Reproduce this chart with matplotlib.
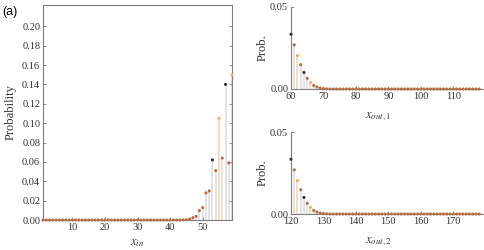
import numpy as np
import matplotlib
matplotlib.use('Agg')
import matplotlib.pyplot as plt

plt.rcParams['font.family'] = ['Liberation Serif', 'DejaVu Serif']
plt.rcParams['mathtext.fontset'] = 'stix'

# datos del panel izquierdo (x_in)
x_in = np.arange(1, 60)
p_in = [0.0] * 43 + [0.0001, 0.0003, 0.001, 0.0024, 0.0038, 0.0097, 0.0128,
                     0.028, 0.030, 0.062, 0.051, 0.105, 0.064, 0.140, 0.059, 0.150]
dark_in = [53, 57]
orange_in = [55, 59]

# datos de los paneles derechos (x_out,1 y x_out,2)
x_out1 = np.arange(60, 119)
x_out2 = np.arange(120, 179)
p_out = [0.0334, 0.0269, 0.0204, 0.0148, 0.0101, 0.0065, 0.0040, 0.0022,
         0.0012, 0.0006, 0.0002, 0.0001] + [0.0] * 47
dark_out = [0, 4]
orange_out = [2, 6]

c_dark = '#3b3030'
c_orange = '#f3ab63'
c_brown = '#b46c45'
c_stem = '#e0e0e0'
c_stem_or = '#f9d8b6'
c_axis = '#7f7f7f'


def colores(idx, dark, orange):
    dots, stems = [], []
    for i in idx:
        if i in dark:
            dots.append(c_dark); stems.append(c_stem)
        elif i in orange:
            dots.append(c_orange); stems.append(c_stem_or)
        else:
            dots.append(c_brown); stems.append(c_stem)
    return dots, stems


fig = plt.figure(figsize=(4.85, 2.5), dpi=100)

# panel izquierdo
ax = fig.add_axes([0.0887, 0.12, 0.3897, 0.86])
dots, stems = colores(list(x_in), dark_in, orange_in)
ax.vlines(x_in, 0, p_in, colors=stems, lw=1.3, zorder=1)
ax.scatter(x_in, p_in, s=5, c=dots, linewidths=0, zorder=3, clip_on=False)
ax.set_xlim(1, 59)
ax.set_ylim(0, 0.222)
ax.set_xticks([10, 20, 30, 40, 50])
ax.set_yticks(np.arange(0, 0.201, 0.02))
ax.set_yticklabels(['%.2f' % v for v in np.arange(0, 0.201, 0.02)])
ax.tick_params(direction='in', length=2.5, width=0.6, color=c_axis,
               labelsize=7.5, labelcolor='#333333', right=True, pad=2)
for s in ax.spines.values():
    s.set_color(c_axis)
    s.set_linewidth(0.8)
ax.set_ylabel('Probability', fontsize=9, labelpad=4, color='#333333')
ax.set_xlabel(r'$x_{in}$', fontsize=9, labelpad=4, color='#333333')

# paneles derechos
for k, (xs, lab, bot) in enumerate([(x_out1, r'$x_{out,1}$', 0.644),
                                     (x_out2, r'$x_{out,2}$', 0.144)]):
    ax2 = fig.add_axes([0.6, bot, 0.4, 0.328])
    dots, stems = colores(range(len(xs)), dark_out, orange_out)
    ax2.vlines(xs, 0, p_out, colors=stems, lw=1.3, zorder=1)
    ax2.scatter(xs, p_out, s=5, c=dots, linewidths=0, zorder=3, clip_on=False)
    ax2.set_xlim(xs[0], xs[0] + 59.8)
    ax2.set_ylim(0, 0.05)
    ax2.set_yticks([0, 0.05])
    ax2.set_yticklabels(['0.00', '0.05'])
    ax2.set_xticks(np.arange(xs[0], xs[0] + 51, 10))
    ax2.spines['top'].set_visible(False)
    ax2.spines['right'].set_visible(False)
    for s in ['left', 'bottom']:
        ax2.spines[s].set_color(c_axis)
        ax2.spines[s].set_linewidth(0.8)
    ax2.tick_params(direction='in', length=2.5, width=0.6, color=c_axis,
                    labelsize=7.5, labelcolor='#333333', pad=2)
    ax2.set_ylabel('Prob.', fontsize=9, labelpad=1, color='#333333')
    ax2.set_xlabel(lab, fontsize=9, color='#333333')
    ax2.xaxis.set_label_coords(0.45, -0.26)

fig.text(0.004, 0.94, '(a)', fontsize=9, family='Liberation Sans')

fig.savefig('out.png', dpi=100)
